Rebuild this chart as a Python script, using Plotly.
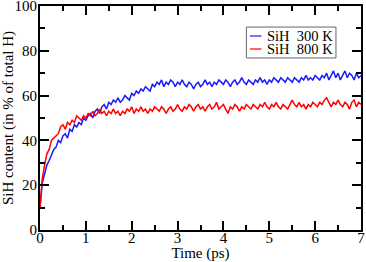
import plotly.graph_objects as go

# ---- data ----
TIME_STEP_PS = 0.05

sih_300K = [10, 21, 25, 29, 31, 34, 36, 37, 40, 39,
            42, 43, 41, 45, 44, 47, 46, 48, 47, 50,
            49, 51, 52, 50, 53, 54, 52, 55, 56, 54,
            57, 56, 58, 57, 59, 57, 58, 60, 59, 58,
            61, 60, 62, 61, 63, 62, 64, 63, 62, 65,
            64, 66, 65, 67, 64, 66, 65, 67, 66, 64,
            66, 65, 67, 65, 64, 66, 65, 63, 65, 66,
            64, 65, 67, 65, 66, 64, 66, 65, 67, 66,
            65, 67, 66, 64, 66, 67, 65, 66, 68, 66,
            65, 67, 66, 65, 67, 66, 68, 66, 67, 65,
            67, 66, 68, 67, 66, 68, 67, 66, 68, 67,
            66, 68, 67, 66, 68, 67, 69, 67, 68, 67,
            69, 68, 67, 69, 68, 70, 67, 69, 71, 68,
            70, 67, 69, 71, 68, 70, 69, 67, 70, 68,
            69]

sih_800K = [10, 23, 29, 34, 36, 40, 41, 42, 43, 46,
            47, 45, 48, 47, 49, 48, 51, 50, 49, 51,
            50, 52, 51, 53, 51, 52, 54, 52, 53, 51,
            53, 52, 54, 52, 53, 51, 53, 52, 54, 53,
            55, 52, 54, 53, 55, 53, 54, 52, 54, 53,
            55, 54, 53, 55, 54, 52, 54, 55, 53, 54,
            56, 54, 53, 55, 54, 56, 55, 53, 55, 56,
            54, 55, 53, 55, 56, 54, 55, 57, 54, 55,
            56, 54, 52, 55, 54, 56, 55, 53, 55, 54,
            56, 55, 54, 56, 55, 54, 56, 55, 57, 55,
            54, 56, 55, 57, 55, 54, 56, 55, 54, 56,
            58, 56, 55, 57, 55, 56, 54, 56, 55, 57,
            56, 55, 57, 56, 58, 59, 57, 55, 57, 56,
            58, 56, 55, 57, 56, 54, 57, 58, 55, 57,
            56]

series_names = ["SiH\u00a0 300 K", "SiH\u00a0 800 K"]
series_colors = ["#1a1aff", "#ff0000"]

x_ticks = [0, 1, 2, 3, 4, 5, 6, 7]
y_ticks = [0, 20, 40, 60, 80, 100]

FONT = "Liberation Serif, serif"

fig = go.Figure()
for vals, name, col in zip([sih_300K, sih_800K], series_names, series_colors):
    t = [round(i * TIME_STEP_PS, 2) for i in range(len(vals))]
    fig.add_trace(go.Scatter(x=t, y=vals, mode="lines", name=name,
                             line=dict(color=col, width=1.5), showlegend=False))

axis_common = dict(showline=True, linecolor="black", linewidth=2, mirror="ticks",
                   ticks="inside", tickcolor="black", tickwidth=1.5, ticklen=9,
                   showgrid=False, zeroline=False, ticklabeloverflow="allow",
                   automargin=False,
                   tickfont=dict(family=FONT, size=15, color="black"))

fig.update_xaxes(range=[0, 7], tickvals=x_ticks, ticklabelstandoff=-7,
                 minor=dict(ticks="inside", ticklen=5, tickcolor="black", tickwidth=1.5, dtick=0.5),
                 title=dict(text="Time (ps)", font=dict(family=FONT, size=15, color="black"), standoff=3),
                 **axis_common)
fig.update_yaxes(range=[0, 100], tickvals=y_ticks, ticklabelstandoff=-2,
                 minor=dict(ticks="inside", ticklen=5, tickcolor="black", tickwidth=1.5, dtick=10),
                 title=dict(text="SiH content (in % of total H)", font=dict(family=FONT, size=15, color="black")),
                 **axis_common)

# manual legend box (paper coordinates)
fig.add_shape(type="rect", xref="paper", yref="paper", x0=0.643, x1=0.922, y0=0.768, y1=0.906,
              line=dict(color="#666666", width=1), fillcolor="white")
for i, (name, col) in enumerate(zip(series_names, series_colors)):
    yy = 0.866 - i * 0.058
    fig.add_shape(type="line", xref="paper", yref="paper", x0=0.654, x1=0.690, y0=yy, y1=yy,
                  line=dict(color=col, width=1.2))
    fig.add_annotation(x=0.704, y=yy, xref="paper", yref="paper", text=name, showarrow=False,
                       xanchor="left", yanchor="middle", borderpad=0,
                       font=dict(family=FONT, size=14.5, color="black"))

fig.update_layout(template="none", font=dict(family=FONT, color="black"),
                  width=366, height=262, margin=dict(l=40, r=5, t=6, b=32, autoexpand=False),
                  plot_bgcolor="white", paper_bgcolor="white")

fig.write_html("out.html", config={"displayModeBar": False},
               post_script="document.body.style.margin='0';document.body.style.padding='0';")
